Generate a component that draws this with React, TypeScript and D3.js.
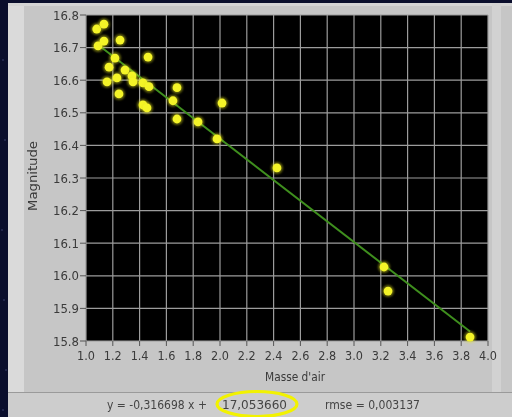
import React from "react";
import * as d3 from "d3";

// airmass (Masse d'air) vs magnitude
const airmass = [
  1.08, 1.134, 1.09, 1.134, 1.254, 1.216, 1.172, 1.463, 1.291, 1.343, 1.351,
  1.157, 1.231, 1.246, 1.425, 1.47, 1.679, 1.649, 1.425, 1.455, 1.679, 1.836,
  2.015, 1.978, 2.425, 3.224, 3.254, 3.866,
];
const magnitude = [
  16.757, 16.772, 16.705, 16.72, 16.723, 16.668, 16.64, 16.671, 16.631, 16.613,
  16.595, 16.595, 16.607, 16.558, 16.592, 16.58, 16.577, 16.537, 16.524,
  16.515, 16.481, 16.472, 16.53, 16.42, 16.331, 16.027, 15.953, 15.812,
];
const slope = -0.316698;
const intercept = 17.05366;
const xTicks = [1.0, 1.2, 1.4, 1.6, 1.8, 2.0, 2.2, 2.4, 2.6, 2.8, 3.0, 3.2, 3.4, 3.6, 3.8, 4.0];
const yTicks = [15.8, 15.9, 16.0, 16.1, 16.2, 16.3, 16.4, 16.5, 16.6, 16.7, 16.8];
const eqLeft = "y = -0,316698 x +";
const eqIntercept = "17,053660";
const rmseText = "rmse = 0,003137";

const W = 512;
const H = 417;
const plot = { left: 86, top: 15, right: 488, bottom: 341 };
const font = "'DejaVu Sans Condensed', 'Liberation Sans Narrow', sans-serif";
const ink = "#3a3a3a";

export default function App() {
  const x = d3.scaleLinear().domain([1, 4]).range([plot.left, plot.right]);
  const y = d3.scaleLinear().domain([15.8, 16.8]).range([plot.bottom, plot.top]);

  const pts = airmass.map((a, i) => ({ a, m: magnitude[i] }));
  const [xmin, xmax] = d3.extent(airmass) as [number, number];
  const fit = d3
    .line<number>()
    .x((d) => x(d))
    .y((d) => y(slope * d + intercept))([xmin, xmax]);

  // a few faint stars in the blue background
  const stars = [
    [3, 60], [5, 140], [2, 230], [4, 300], [6, 370], [3, 410],
  ];

  return (
    <svg
      width={W}
      height={H}
      style={{ position: "absolute", left: 0, top: 0, display: "block" }}
    >
      <defs>
        <filter id="glow" x="-50%" y="-50%" width="200%" height="200%">
          <feGaussianBlur stdDeviation="0.9" />
        </filter>
        <filter id="soft" x="-10%" y="-30%" width="120%" height="160%">
          <feGaussianBlur stdDeviation="0.35" />
        </filter>
      </defs>
      <rect width={W} height={H} fill="#0a0e2c" />
      {stars.map(([sx, sy], i) => (
        <circle key={i} cx={sx} cy={sy} r={0.7} fill="#4a5080" />
      ))}

      {/* panel */}
      <rect x={8} y={3} width={W - 8} height={389} fill="#c6c6c6" />
      <rect x={8} y={3} width={16} height={389} fill="#dadada" />
      <rect x={8} y={3} width={W - 8} height={3} fill="#d4d4d4" />
      <rect x={492} y={3} width={9} height={389} fill="#d2d2d2" />
      {/* status bar */}
      <rect x={8} y={392} width={W - 8} height={25} fill="#cdcdcd" />
      <line x1={8} x2={W} y1={392.5} y2={392.5} stroke="#9a9a9a" />

      {/* plot area */}
      <rect
        x={plot.left}
        y={plot.top}
        width={plot.right - plot.left}
        height={plot.bottom - plot.top}
        fill="#000"
      />
      {xTicks.map((t) => (
        <line
          key={"gx" + t}
          x1={x(t)}
          x2={x(t)}
          y1={plot.top}
          y2={plot.bottom}
          stroke="#9c9c9c"
          strokeWidth={1.2}
        />
      ))}
      {yTicks.map((t) => (
        <line
          key={"gy" + t}
          x1={plot.left}
          x2={plot.right}
          y1={y(t)}
          y2={y(t)}
          stroke="#9c9c9c"
          strokeWidth={1.2}
        />
      ))}

      {/* axes ticks + labels */}
      <g filter="url(#soft)">
        {yTicks.map((t) => (
          <g key={"ty" + t}>
            <line x1={plot.left - 6} x2={plot.left} y1={y(t)} y2={y(t)} stroke="#555" />
            <text
              x={plot.left - 7}
              y={y(t)}
              dy="0.36em"
              textAnchor="end"
              fontFamily={font}
              fontSize={13}
              fill={ink}
            >
              {t.toFixed(1)}
            </text>
          </g>
        ))}
        {xTicks.map((t) => (
          <g key={"tx" + t}>
            <line x1={x(t)} x2={x(t)} y1={plot.bottom} y2={plot.bottom + 5} stroke="#555" />
            <text
              x={x(t)}
              y={plot.bottom + 19}
              textAnchor="middle"
              fontFamily={font}
              fontSize={12.5}
              fill={ink}
            >
              {t.toFixed(1)}
            </text>
          </g>
        ))}
        <text
          transform={`translate(37,${176}) rotate(-90)`}
          textAnchor="middle"
          fontFamily={font}
          fontSize={12}
          fill={ink}
          textLength={70}
          lengthAdjust="spacingAndGlyphs"
        >
          Magnitude
        </text>
        <text
          x={295}
          y={381}
          textAnchor="middle"
          fontFamily={font}
          fontSize={12}
          fill={ink}
          textLength={60}
          lengthAdjust="spacingAndGlyphs"
        >
          Masse d'air
        </text>

        {/* status text */}
        <text x={107} y={409} fontFamily={font} fontSize={12} fill="#444" textLength={100} lengthAdjust="spacingAndGlyphs">
          {eqLeft}
        </text>
        <text x={222} y={409} fontFamily={font} fontSize={12} fill="#444" textLength={65} lengthAdjust="spacingAndGlyphs">
          {eqIntercept}
        </text>
        <text x={325} y={409} fontFamily={font} fontSize={12} fill="#444" textLength={95} lengthAdjust="spacingAndGlyphs">
          {rmseText}
        </text>
      </g>

      {/* fit line */}
      <path d={fit ?? ""} fill="none" stroke="#3f8f1e" strokeWidth={2} />

      {/* points */}
      {pts.map((p, i) => (
        <g key={i}>
          <circle cx={x(p.a)} cy={y(p.m)} r={6} fill="#e8e820" opacity={0.45} filter="url(#glow)" />
          <circle cx={x(p.a)} cy={y(p.m)} r={4.4} fill="#f4f428" />
        </g>
      ))}

      <ellipse cx={257} cy={404} rx={40} ry={12.5} fill="none" stroke="#f2f200" strokeWidth={3.2} />
    </svg>
  );
}
